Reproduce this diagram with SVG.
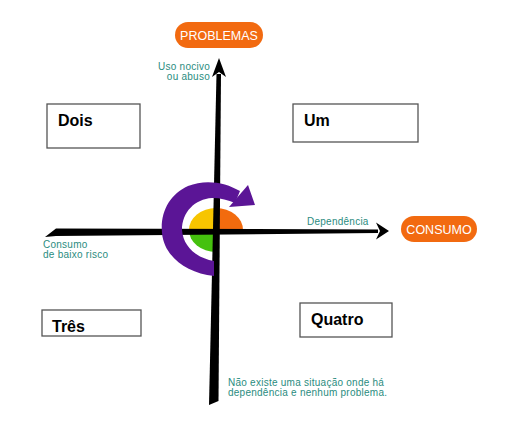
<svg xmlns="http://www.w3.org/2000/svg" width="517" height="423" viewBox="0 0 517 423">
<style>
.box{fill:#fff;stroke:#555;stroke-width:1.3}
.bt{font-family:"Liberation Sans",Arial,sans-serif;font-weight:bold;font-size:16px;fill:#000}
.pill{fill:#f26a10}
.pt{font-family:"Liberation Sans",Arial,sans-serif;font-size:12.5px;fill:#fff;text-anchor:middle}
.tl{font-family:"Liberation Sans",Arial,sans-serif;font-size:10px;letter-spacing:0.25px;fill:#2a8c80}
.ax{fill:#000}
</style>
<rect width="517" height="423" fill="#fff"/>
<g id="center-cycle">
<path d="M216,230 L189,230 A27,22 0 0 1 216,208 Z" fill="#f7c500"/>
<path d="M216,230 L216,208 A27,22 0 0 1 243,230 Z" fill="#f26b0e"/>
<path d="M216,230 L216,252 A27,22 0 0 1 189,230 Z" fill="#45c10e"/>
</g>
<g id="connectors">
<path class="ax" d="M45,237 L56,228.5 L378,229.5 L378,233 L56,236 Z"/>
<path class="ax" d="M376,222.5 L389,231 L376,239.5 L380,231 Z"/>
<path class="ax" d="M216.5,74 L221,74 L218.5,401 L209,405 Z"/>
<path class="ax" d="M219,58 L226,77 L219,72 L212,77 Z"/>
</g>
<g id="cycle-arrow" fill="#5b1596">
<path d="M240,191 C225,182 205,179 188,186 C170,194 160,212 162,233 C164,256 186,273 214,276 L214,261 C196,258 183,246 182,230 C182,212 195,199 212,198 C221,198 228,200 235,203 Z"/>
<path d="M248,185 L255,205 L229,207 Z"/>
</g>
<g id="problemas">
<rect class="pill" x="175" y="22" width="88" height="26" rx="13"/>
<text class="pt" x="219" y="39.5">PROBLEMAS</text>
</g>
<g id="consumo">
<rect class="pill" x="401" y="216" width="76" height="26" rx="13"/>
<text class="pt" x="439" y="233.5">CONSUMO</text>
</g>
<g id="label-uso">
<text class="tl" text-anchor="end"><tspan x="210" y="70">Uso nocivo</tspan><tspan x="210" y="80">ou abuso</tspan></text>
</g>
<g id="label-dependencia">
<text class="tl" x="307" y="225">Dependência</text>
</g>
<g id="label-baixo">
<text class="tl"><tspan x="43" y="248">Consumo</tspan><tspan x="43" y="258">de baixo risco</tspan></text>
</g>
<g id="label-nao">
<text class="tl"><tspan x="228" y="386">Não existe uma situação onde há</tspan><tspan x="228" y="396">dependência e nenhum problema.</tspan></text>
</g>
<g id="box-dois">
<rect class="box" x="47" y="104" width="93" height="44"/>
<text class="bt" x="58" y="126">Dois</text>
</g>
<g id="box-um">
<rect class="box" x="293" y="104" width="125" height="38"/>
<text class="bt" x="304" y="126">Um</text>
</g>
<g id="box-tres">
<rect class="box" x="42" y="310" width="99" height="26"/>
<text class="bt" x="52" y="332">Três</text>
</g>
<g id="box-quatro">
<rect class="box" x="300" y="303" width="92" height="34"/>
<text class="bt" x="311" y="325">Quatro</text>
</g>
</svg>
